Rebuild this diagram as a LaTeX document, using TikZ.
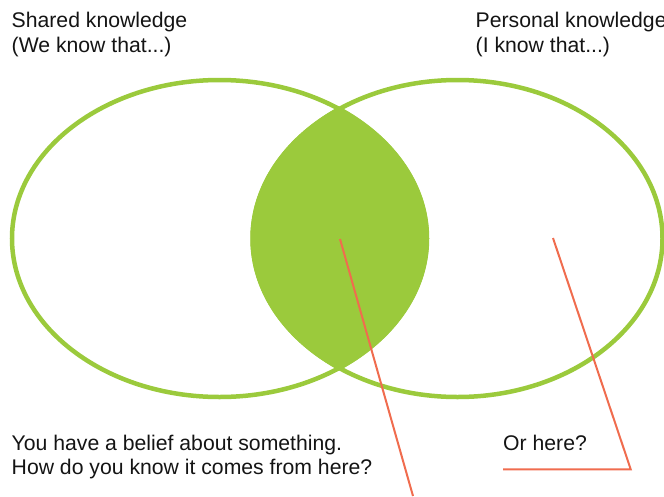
\documentclass[tikz,border=0pt]{standalone}
\usepackage{fontspec}
\setmainfont{Liberation Sans}
\definecolor{vgreen}{RGB}{155,202,60}
\definecolor{vred}{RGB}{240,108,78}
\begin{document}
\begin{tikzpicture}[x=1pt,y=-1pt,
  ring/.style={draw=vgreen,line width=4.5pt},
  lbl/.style={inner sep=0pt,anchor=base west,align=left,font=\fontsize{21.2}{24.8}\selectfont,text=black!92},
  pointer/.style={draw=vred,line width=2pt}]
\useasboundingbox (0,0) rectangle (664,496);
% lens fill
\begin{scope}
  \clip (219.5,238.5) ellipse [x radius=209.5, y radius=160.5];
  \fill[vgreen] (457,238.5) ellipse [x radius=206.5, y radius=160.5];
\end{scope}
\path[ring] (219.5,238.5) ellipse [x radius=207.5, y radius=158.5];
\path[ring] (457.5,238.5) ellipse [x radius=205, y radius=158.5];
% labels (anchor = baseline of the last line)
\node[lbl] (shared) at (11.5,52.1) {Shared knowledge\\(We know that...)};
\node[lbl] (personal) at (475.5,52.1) {Personal knowledge\\(I know that...)};
\node[lbl] (belief) at (11.5,474.8) {You have a belief about something.\\How do you know it comes from here?};
\node[lbl] (orhere) at (503,450) {Or here?};
% pointers
\coordinate (p1a) at (340,239);
\coordinate (p1b) at (413,496);
\coordinate (p2a) at (553,238);
\coordinate (p2b) at (630.7,469.3);
\coordinate (p2c) at (503,469.3);
\draw[pointer] (p1a) -- (p1b);
\draw[pointer,line join=miter] (p2a) -- (p2b) -- (p2c);
\end{tikzpicture}
\end{document}
